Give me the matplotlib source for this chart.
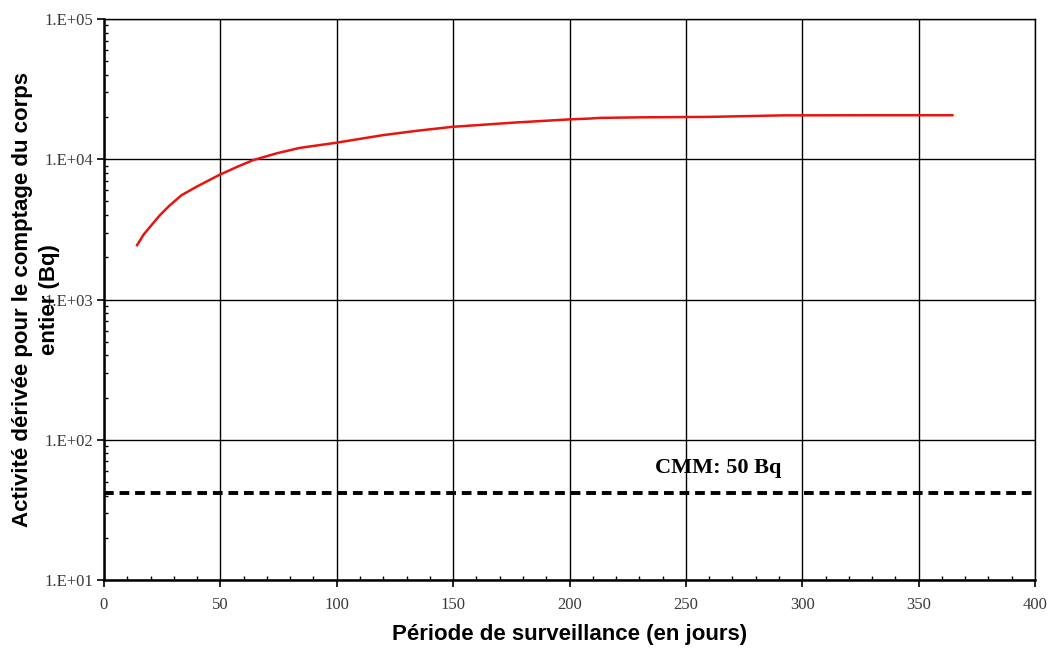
import numpy as np
import matplotlib
matplotlib.use("Agg")
import matplotlib.pyplot as plt
from matplotlib.ticker import FuncFormatter, MultipleLocator, LogLocator

# derived activity (Bq) versus monitoring period (days)
days = [14.2, 17, 20.4, 24, 28, 33.3, 40, 49.4, 57, 64.1, 74, 84.1, 99.6,
        119.9, 135, 149.6, 177, 200, 208.6, 213, 230.7, 260, 291.4, 330, 364.5]
activity = [2440, 2900, 3390, 3990, 4650, 5540, 6400, 7710, 8800, 9860,
            11000, 12050, 13100, 14860, 16000, 17020, 18290, 19240, 19500,
            19720, 19900, 20050, 20550, 20600, 20600]

cmm_value = 42
cmm_label = "CMM: 50 Bq"

xlabel = "Période de surveillance (en jours)"
ylabel = "Activité dérivée pour le comptage du corps\nentier (Bq)"

fig = plt.figure(figsize=(10.49, 6.48), dpi=100)
ax = fig.add_axes([104/1049, 68/648, 931/1049, 561/648])

ax.plot(days, activity, color="#e8140f", lw=1.8, zorder=3)
ax.axhline(cmm_value, color="black", lw=2.8, dashes=(2.5, 1.5), zorder=3)
ax.text(264, 63, cmm_label, ha="center", va="center", fontsize=16,
        fontweight="bold", family="Liberation Serif", zorder=4)

ax.set_yscale("log")
ax.set_xlim(0, 400)
ax.set_ylim(10, 1e5)

ax.xaxis.set_major_locator(MultipleLocator(50))
ax.xaxis.set_minor_locator(MultipleLocator(10))
ax.yaxis.set_major_locator(LogLocator(base=10, numticks=10))
ax.yaxis.set_minor_locator(LogLocator(base=10, subs=np.arange(2, 10), numticks=20))
ax.yaxis.set_major_formatter(FuncFormatter(lambda v, p: "1.E+%02d" % int(round(np.log10(v)))))
ax.yaxis.set_minor_formatter(FuncFormatter(lambda v, p: ""))

ax.grid(True, which="major", color="black", lw=1.0)
ax.set_axisbelow(True)
for s in ax.spines.values():
    s.set_color("black")
    s.set_linewidth(1.0)
ax.spines["left"].set_linewidth(1.8)
ax.spines["bottom"].set_linewidth(1.8)

ax.tick_params(which="major", direction="out", length=5, width=1.2,
               labelsize=12, labelcolor="#3a3a3a", pad=3)
ax.tick_params(which="minor", direction="in", length=3, width=1.0)
for lab in ax.get_xticklabels() + ax.get_yticklabels():
    lab.set_family("Liberation Serif")
ax.tick_params(axis="x", pad=7)

ax.set_xlabel(xlabel, fontsize=16, fontweight="bold", family="Liberation Sans")
ax.xaxis.set_label_coords(0.5, -0.078)
ax.set_ylabel(ylabel, fontsize=16, fontweight="bold", family="Liberation Sans",
              linespacing=1.4)
ax.yaxis.label.set_va("center")
ax.yaxis.set_label_coords(-0.073, 0.5)

fig.savefig("out.png", dpi=100)
